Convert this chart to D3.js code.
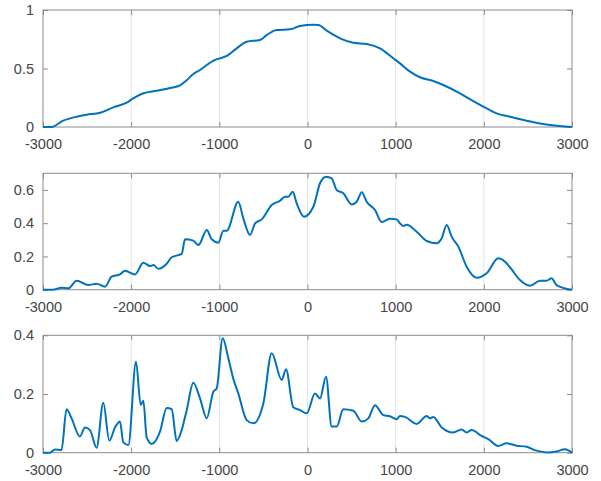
<!DOCTYPE html>
<html>
<head>
<meta charset="utf-8">
<script src="https://cdn.jsdelivr.net/npm/d3@7"></script>
<style>
  body { margin: 0; background: #fff; }
  svg text { font-family: "Liberation Sans", Arial, sans-serif; }
</style>
</head>
<body>
<div id="chart"></div>
<script>
// x ticks shared by every panel
const xTicks = [-3000, -2000, -1000, 0, 1000, 2000, 3000];

// top panel
const topX = [-3000, -2905, -2770, -2618, -2505, -2353, -2202, -2051, -1976, -1862, -1710, -1560, -1446, -1370, -1295, -1219,
  -1143, -1049, -916, -803, -690, -539, -463, -350, -199, -85, 66, 123, 218, 369, 520, 671, 822, 973, 1049,
  1163, 1276, 1427, 1540, 1729, 1880, 2032, 2145, 2296, 2485, 2674, 2863, 3000];
const topY = [0, 0, 0.054, 0.088, 0.105, 0.122, 0.168, 0.208, 0.245, 0.288, 0.31, 0.333, 0.356, 0.40, 0.453, 0.487,
  0.53, 0.573, 0.607, 0.672, 0.729, 0.744, 0.786, 0.829, 0.835, 0.863, 0.874, 0.872, 0.823, 0.758, 0.72, 0.709, 0.672, 0.587, 0.544,
  0.473, 0.425, 0.393, 0.359, 0.288, 0.222, 0.16, 0.117, 0.088, 0.054, 0.026, 0.009, 0];
const topTicks = [0, 0.5, 1];

// middle panel
const midX = [-3000, -2888, -2790, -2714, -2618, -2486, -2392, -2297, -2222, -2127, -2070, -1957, -1862, -1786, -1748, -1692,
  -1597, -1540, -1427, -1389, -1295, -1238, -1219, -1143, -1087, -1011, -955, -916, -785, -728, -652, -595, -519, -406,
  -312, -255, -218, -168, -123, -40, 66, 142, 210, 274, 331, 406, 501, 558, 615, 671, 766, 841, 935, 1011, 1049,
  1087, 1125, 1238, 1352, 1465, 1522, 1579, 1635, 1711, 1805, 1919, 2032, 2164, 2240, 2296, 2410, 2523, 2637, 2712,
  2768, 2825, 3000];
const midY = [0, 0, 0.012, 0.008, 0.054, 0.028, 0.036, 0.018, 0.078, 0.092, 0.114, 0.092, 0.162, 0.142, 0.148, 0.126,
  0.156, 0.195, 0.215, 0.303, 0.295, 0.269, 0.279, 0.359, 0.303, 0.283, 0.355, 0.355, 0.529, 0.429, 0.329, 0.399, 0.423, 0.509,
  0.535, 0.559, 0.559, 0.589, 0.52, 0.439, 0.499, 0.64, 0.68, 0.67, 0.6, 0.58, 0.513, 0.529, 0.586, 0.529, 0.479, 0.407, 0.427, 0.423, 0.399,
  0.383, 0.39, 0.349, 0.293, 0.279, 0.309, 0.389, 0.319, 0.259, 0.138, 0.072, 0.099, 0.189, 0.168, 0.135, 0.058, 0.024, 0.054, 0.054,
  0.069, 0.028, 0];
const midTicks = [0, 0.2, 0.4, 0.6];

// bottom panel
const lowX = [-3000, -2921, -2864, -2790, -2733, -2676, -2582, -2524, -2467, -2392, -2316, -2248, -2183, -2127, -2089, -2032,
  -1945, -1892, -1862, -1824, -1767, -1673, -1597, -1540, -1484, -1427, -1370, -1295, -1219, -1143, -1068, -1030, -962,
  -898, -840, -785, -690, -614, -501, -406, -293, -244, -161, -85, -9, 85, 142, 210, 274, 331, 406, 520, 615, 690, 766, 860,
  935, 1011, 1049, 1106, 1238, 1352, 1390, 1427, 1522, 1654, 1748, 1805, 1862, 1975, 2051, 2164, 2258, 2372, 2485,
  2599, 2712, 2825, 2920, 3000];
const lowY = [0, 0, 0.011, 0.009, 0.148, 0.117, 0.055, 0.086, 0.077, 0.017, 0.17, 0.041, 0.086, 0.106, 0.035, 0.026,
  0.31, 0.163, 0.177, 0.052, 0.03, 0.072, 0.152, 0.148, 0.04, 0.077, 0.145, 0.238, 0.185, 0.117, 0.208, 0.219, 0.39,
  0.322, 0.25, 0.202, 0.111, 0.1, 0.168, 0.339, 0.248, 0.284, 0.155, 0.145, 0.134, 0.202, 0.185, 0.259, 0.089, 0.089, 0.148, 0.143, 0.106, 0.117, 0.162, 0.128,
  0.124, 0.114, 0.125, 0.122, 0.098, 0.125, 0.117, 0.122, 0.086, 0.069, 0.079, 0.069, 0.077, 0.057, 0.046, 0.023, 0.032, 0.024, 0.02,
  0.007, 0.001, 0.004, 0.012, 0];
const lowTicks = [0, 0.2, 0.4];

const width = 601;
const height = 481;

const svg = d3.select("#chart")
  .append("svg")
  .attr("width", width)
  .attr("height", height);

const left = 43, right = 572;
const x = d3.scaleLinear().domain([-3000, 3000]).range([left, right]);

// one panel = box, grid, ticks, line
function drawPanel(top, bottom, yMax, xs, ys, yTicks) {
  const y = d3.scaleLinear().domain([0, yMax]).range([bottom, top]);
  const g = svg.append("g");

  // vertical grid
  g.selectAll(".grid")
    .data(xTicks.slice(1, -1))
    .enter()
    .append("line")
    .attr("x1", d => x(d)).attr("x2", d => x(d))
    .attr("y1", top).attr("y2", bottom)
    .attr("stroke", "#e3e3e3")
    .attr("stroke-width", 1);

  // bottom and left axes, ticks point inward
  g.append("g")
    .attr("transform", `translate(0,${bottom})`)
    .call(d3.axisBottom(x).tickValues(xTicks).tickSizeInner(-5).tickSizeOuter(0).tickPadding(12).tickFormat(d => String(d)));
  g.append("g")
    .attr("transform", `translate(${left},0)`)
    .call(d3.axisLeft(y).tickValues(yTicks).tickSizeInner(-5).tickSizeOuter(0).tickPadding(9).tickFormat(d => String(d)));

  // top and right ticks, no labels
  g.append("g")
    .attr("transform", `translate(0,${top})`)
    .call(d3.axisTop(x).tickValues(xTicks).tickSizeInner(-5).tickSizeOuter(0).tickFormat(""));
  g.append("g")
    .attr("transform", `translate(${right},0)`)
    .call(d3.axisRight(y).tickValues(yTicks).tickSizeInner(-5).tickSizeOuter(0).tickFormat(""));

  g.selectAll(".domain").remove();
  g.selectAll(".tick line").attr("stroke", "#8c8c8c");
  g.selectAll(".tick text")
    .attr("fill", "#454545")
    .attr("font-size", 14.5);

  // box
  g.append("rect")
    .attr("x", left).attr("y", top)
    .attr("width", right - left).attr("height", bottom - top)
    .attr("fill", "none")
    .attr("stroke", "#8c8c8c")
    .attr("stroke-width", 1);

  const line = d3.line()
    .x((d, i) => x(xs[i]))
    .y(d => y(d))
    .curve(d3.curveMonotoneX);

  g.append("path")
    .datum(ys)
    .attr("d", line)
    .attr("fill", "none")
    .attr("stroke", "#0072BD")
    .attr("stroke-width", 2)
    .attr("stroke-linejoin", "round");
}

drawPanel(10, 127, 1, topX, topY, topTicks);
drawPanel(173.3, 289.7, 0.7, midX, midY, midTicks);
drawPanel(335.3, 452.7, 0.4, lowX, lowY, lowTicks);
</script>
</body>
</html>
